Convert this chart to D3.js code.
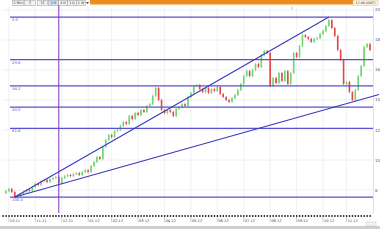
<!DOCTYPE html>
<html><head><meta charset="utf-8">
<script src="https://cdn.jsdelivr.net/npm/d3@7/dist/d3.min.js"></script>
<style>body{margin:0;background:#fff;overflow:hidden}svg{display:block;font-family:"DejaVu Sans",sans-serif}</style>
</head><body>
<svg id="c" width="380" height="240"></svg>
<script>
// ---- data ----
const closes = [7.80,7.93,8.07,7.87,7.53,7.60,7.73,7.87,8.00,7.93,
8.20,8.40,8.33,8.60,8.67,8.53,8.73,8.80,8.87,8.47,
8.80,8.93,9.00,8.93,9.07,9.13,9.00,9.20,9.33,9.20,
9.60,9.87,10.20,10.07,10.87,11.33,11.67,11.53,11.93,12.00,
12.27,12.53,12.40,12.93,12.73,13.13,13.00,13.33,13.20,13.60,
13.73,14.27,14.80,14.00,13.33,13.13,13.33,13.20,12.93,13.40,
13.53,13.73,13.60,14.20,14.47,14.93,15.00,14.73,14.53,14.80,
14.47,14.73,14.60,14.87,14.40,14.20,14.00,13.87,14.13,14.33,
14.67,15.07,15.60,15.93,15.60,16.00,16.40,16.20,17.00,17.27,
17.13,14.93,15.47,15.13,15.80,15.27,15.93,15.07,15.80,17.13,
16.87,17.60,18.33,18.20,18.07,17.87,18.07,18.13,18.40,18.60,
18.93,19.33,18.80,18.27,17.33,16.67,15.07,15.20,14.53,14.00,
14.67,15.60,16.27,17.53,17.73,17.33];
const monthTickIdx = [2,11,20,29,37,46,55,64,73,82,91,100,109,117];
const monthLabels = ["10.11","11.11","12.11","01.12","02.12","03.12","04.12","05.12","06.12","07.12","08.12","09.12","10.12","11.12"];
const priceTicks = [8,10,12,14,16,18,20];
const fibLevels = [0,23.6,38.2,50,61.8,100];
const fibLabels = ["0.0","23.6","38.2","50.0","61.8","100.0"];
const fibHigh = 19.53, fibLow = 7.53;
const trendStart = {i:4, v:7.53};
const upperEnd = {i:111, v:19.53};
const lowerThrough = {i:119, v:13.87};
const vLineIdx = 19;
const toolbarLabels = ["1 Min","5","15","1 H","4 H","1 D","1 W"];
const clockText = "17:09 (GMT)";

// ---- scales ----
const svg = d3.select("#c");
const x = d3.scaleLinear().domain([0, closes.length-1]).range([3, 370]);
const y = d3.scaleLinear().domain([6.467, 20.133]).range([213, 8]);

// ---- toolbar ----
const tb = svg.append("g");
const btnX = [12,24,37,48,58,67,76];
const btnW = [11,11,10,10,9,9,9];
toolbarLabels.forEach((t,k)=>{
  tb.append("rect").attr("x",btnX[k]+0.5).attr("y",0.5).attr("width",btnW[k]).attr("height",5)
    .attr("fill", k===3?"#cfdcf2":"#f2f2f2").attr("stroke","#a8a8a8").attr("stroke-width",0.6);
  tb.append("text").attr("x",btnX[k]+btnW[k]/2+0.5).attr("y",4.3).attr("text-anchor","middle")
    .attr("font-size",3.3).attr("fill","#333").text(t);
});
tb.append("path").attr("d","M86,2 L89,2 L87.5,4 Z").attr("fill","#444");
tb.append("rect").attr("x",90).attr("y",0).attr("width",263).attr("height",4.2).attr("fill","#ee8a22");
tb.append("rect").attr("x",90).attr("y",4.2).attr("width",263).attr("height",1).attr("fill","#f7c27e");
tb.append("rect").attr("x",353).attr("y",0).attr("width",25).attr("height",5.2).attr("fill","#fbf3e6").attr("stroke","#d0b890").attr("stroke-width",0.5);
tb.append("text").attr("x",365.5).attr("y",3.9).attr("text-anchor","middle").attr("font-size",3.2).attr("fill","#333").text(clockText);

// ---- grid ----
const grid = svg.append("g").attr("stroke","#ececf4").attr("stroke-width",0.8);
monthTickIdx.forEach(i=>grid.append("line").attr("x1",x(i)).attr("x2",x(i)).attr("y1",7).attr("y2",213));
priceTicks.forEach(v=>grid.append("line").attr("x1",3).attr("x2",373).attr("y1",y(v)).attr("y2",y(v)));
svg.append("line").attr("x1",373.5).attr("x2",373.5).attr("y1",7).attr("y2",213).attr("stroke","#d8d8e0").attr("stroke-width",0.8);

// right axis labels
priceTicks.forEach(v=>{
  svg.append("text").attr("x",375).attr("y",y(v)+1.5).attr("font-size",4).attr("fill","#556").text(v);
});

// ---- candles ----
const cg = svg.append("g");
closes.forEach((c,i)=>{
  if(i===0) return;
  const o = closes[i-1];
  const up = c>=o;
  const top = y(Math.max(o,c)), bot = y(Math.min(o,c));
  cg.append("line").attr("x1",x(i)).attr("x2",x(i)).attr("y1",top-1.2).attr("y2",bot+1.2)
    .attr("stroke", up?"#4cb84c":"#d83a3a").attr("stroke-width",0.6);
  cg.append("rect").attr("x",x(i)-0.8).attr("width",1.6).attr("y",top).attr("height",Math.max(1,bot-top))
    .attr("fill", up?"#72d672":"#e24848");
});

// ---- fibonacci levels ----
const fg = svg.append("g");
fibLevels.forEach((l,k)=>{
  const v = fibHigh - (fibHigh-fibLow)*l/100;
  fg.append("line").attr("x1",10).attr("x2",373).attr("y1",y(v)).attr("y2",y(v))
    .attr("stroke","#5a52cc").attr("stroke-width",1.2);
  fg.append("text").attr("x",12).attr("y",y(v)+4).attr("font-size",3.8).attr("fill","#5a58d0").text(fibLabels[k]);
});

// ---- vertical marker line ----
svg.append("line").attr("x1",x(vLineIdx)).attr("x2",x(vLineIdx)).attr("y1",5).attr("y2",213)
  .attr("stroke","#8a44c8").attr("stroke-width",1.1);

// ---- trend lines ----
const tg = svg.append("g").attr("stroke","#3838c0").attr("stroke-width",1.1).attr("fill","none");
tg.append("line").attr("x1",x(trendStart.i)).attr("y1",y(trendStart.v)).attr("x2",x(upperEnd.i)).attr("y2",y(upperEnd.v));
const slope = (lowerThrough.v-trendStart.v)/(lowerThrough.i-trendStart.i);
const endI = x.invert(379);
tg.append("line").attr("x1",x(trendStart.i)).attr("y1",y(trendStart.v)).attr("x2",x(endI)).attr("y2",y(trendStart.v+slope*(endI-trendStart.i)));

// green marker at top
svg.append("line").attr("x1",292).attr("x2",292).attr("y1",7).attr("y2",9.5).attr("stroke","#6c6").attr("stroke-width",0.8);

// ---- date axis ----
const ag = svg.append("g");
closes.forEach((c,i)=>{
  ag.append("rect").attr("x",x(i)-0.6).attr("y",215).attr("width",1.4).attr("height",2).attr("fill","#333");
});
monthTickIdx.forEach((i,k)=>{
  ag.append("line").attr("x1",x(i)).attr("x2",x(i)).attr("y1",217).attr("y2",222).attr("stroke","#999").attr("stroke-width",0.5);
  ag.append("text").attr("x",x(i)+1).attr("y",221.5).attr("font-size",3.6).attr("fill","#444").text(monthLabels[k]);
});
svg.append("rect").attr("x",0).attr("y",226).attr("width",380).attr("height",3).attr("fill","#cfcfcf");
svg.append("rect").attr("x",366).attr("y",222).attr("width",10).attr("height",4).attr("fill","#f4f4f4").attr("stroke","#bbb").attr("stroke-width",0.4);
</script>
</body></html>
